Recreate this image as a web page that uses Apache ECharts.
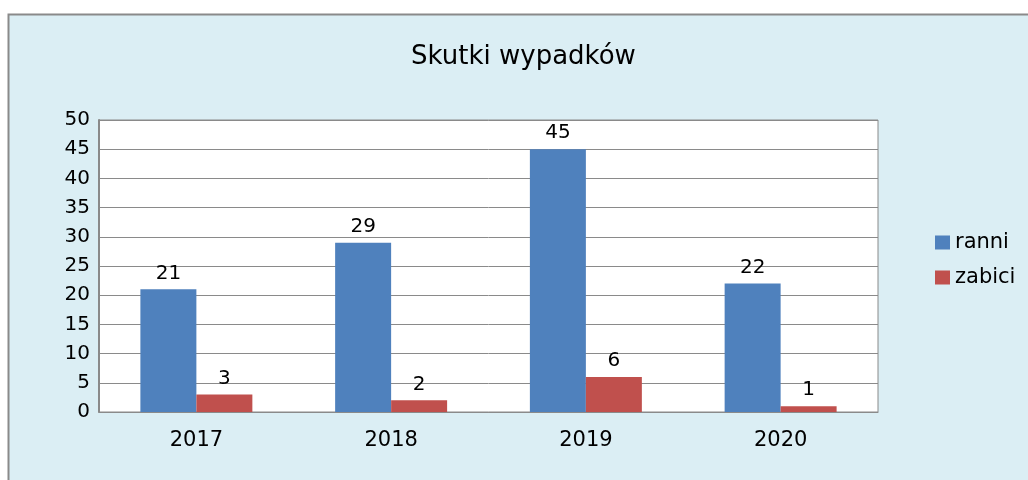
<!DOCTYPE html>
<html><head><meta charset="utf-8">
<script src="https://cdn.jsdelivr.net/npm/echarts@6/dist/echarts.min.js"></script>
<style>html,body{margin:0;padding:0;background:#fff}#c{width:1028px;height:480px}</style>
</head><body><div id="c"></div>
<script>
const categories = ['2017', '2018', '2019', '2020'];
const ranni = [21, 29, 45, 22];
const zabici = [3, 2, 6, 1];
const yTicks = { min: 0, max: 50, interval: 5 };

const font = 'DejaVu Sans';
const chart = echarts.init(document.getElementById('c'));
chart.setOption({
  backgroundColor: '#ffffff',
  animation: false,
  textStyle: { fontFamily: font },
  graphic: [{
    type: 'rect', z: -10, silent: true,
    shape: { x: 8.5, y: 14.5, width: 1040, height: 480 },
    style: { fill: '#DBEEF4', stroke: '#8a8a8a', lineWidth: 2 }
  }],
  title: {
    text: 'Skutki wypadków', left: 411, top: 44, padding: 0,
    textStyle: { fontFamily: font, fontSize: 26, fontWeight: 'normal', color: '#000' }
  },
  legend: {
    orient: 'vertical', left: 930, top: 227, itemWidth: 15, itemHeight: 14, itemGap: 14,
    textStyle: { fontFamily: font, fontSize: 21, color: '#000' },
    data: [{ name: 'ranni', icon: 'rect' }, { name: 'zabici', icon: 'rect' }]
  },
  grid: {
    left: 99, top: 120, right: 150, bottom: 68, show: true,
    backgroundColor: '#ffffff', borderColor: '#8a8a8a', borderWidth: 1
  },
  xAxis: {
    type: 'category', data: categories,
    axisLine: { lineStyle: { color: '#8a8a8a', width: 1 } },
    axisTick: { show: false },
    axisLabel: { fontFamily: font, fontSize: 21, color: '#000', margin: 18 }
  },
  yAxis: {
    type: 'value', min: yTicks.min, max: yTicks.max, interval: yTicks.interval,
    axisLine: { show: true, lineStyle: { color: '#8a8a8a', width: 2 } },
    axisTick: { show: false },
    splitLine: { lineStyle: { color: '#8a8a8a', width: 1 } },
    axisLabel: { fontFamily: font, fontSize: 20, color: '#000', margin: 9 }
  },
  series: [
    { name: 'ranni', type: 'bar', data: ranni, barGap: '0%', barCategoryGap: '42.5%',
      itemStyle: { color: '#4F81BD' },
      label: { show: true, position: 'top', distance: 6, fontFamily: font, fontSize: 20, color: '#000' } },
    { name: 'zabici', type: 'bar', data: zabici,
      itemStyle: { color: '#C0504D' },
      label: { show: true, position: 'top', distance: 6, fontFamily: font, fontSize: 20, color: '#000' } }
  ]
});
</script></body></html>
